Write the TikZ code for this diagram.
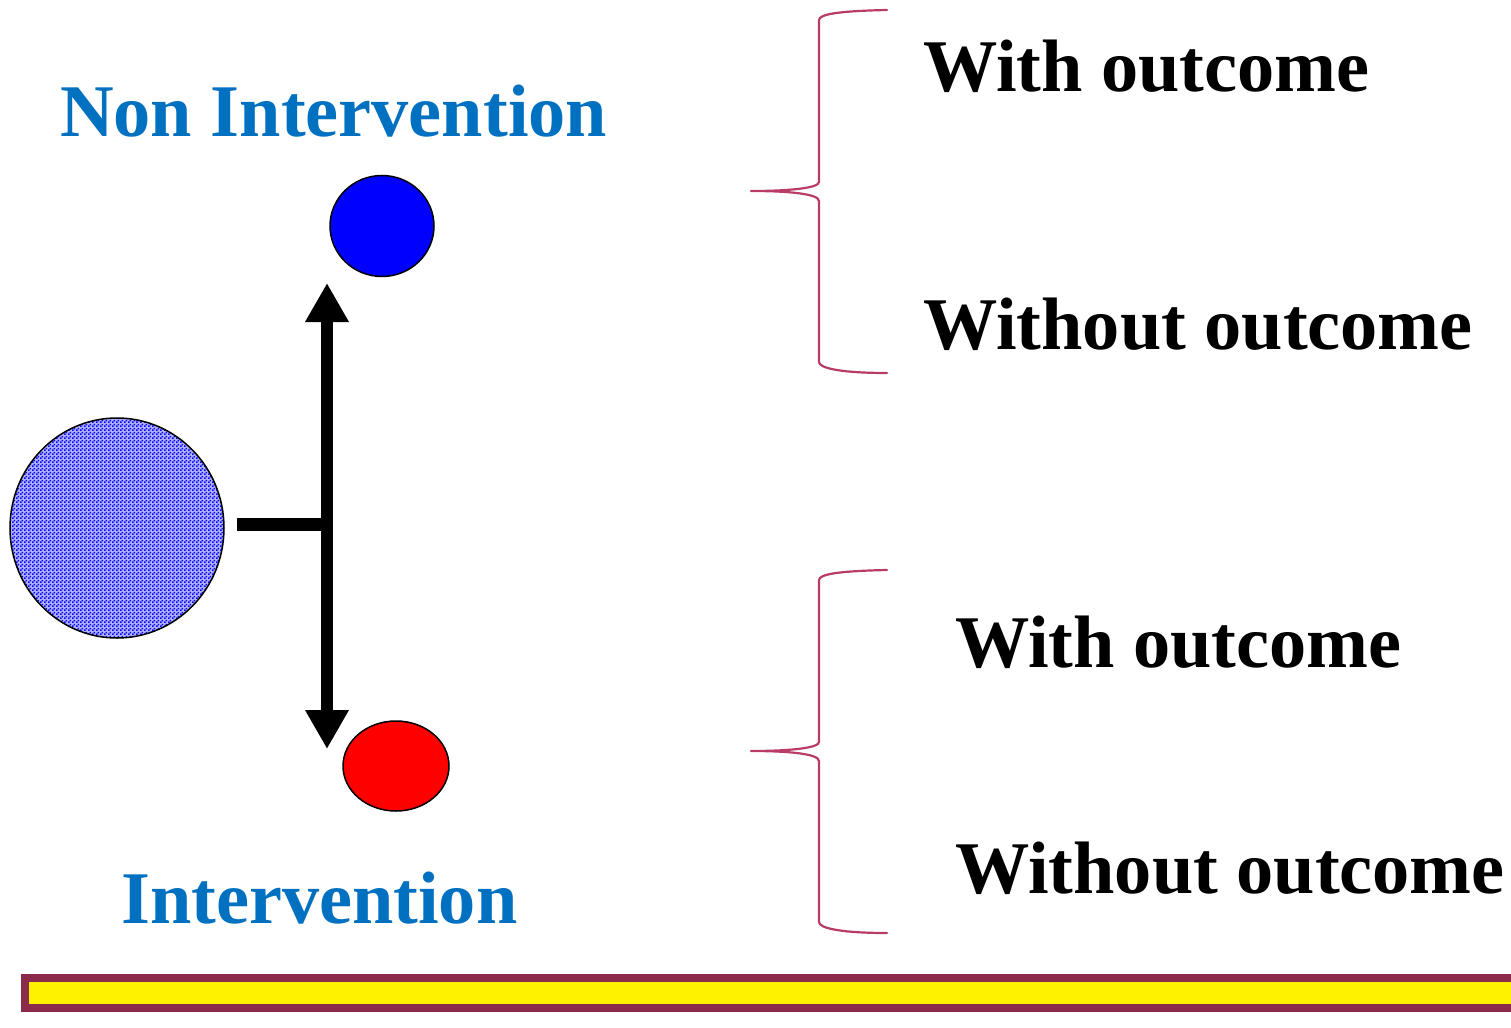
\documentclass[tikz,border=0pt]{standalone}
\usepackage{fontspec}
\setmainfont{Liberation Serif}
\usetikzlibrary{shapes.geometric,arrows.meta,patterns.meta}

\definecolor{labelblue}{RGB}{0,112,192}
\definecolor{bracecol}{RGB}{185,60,100}
\definecolor{barframe}{RGB}{139,42,74}

% fine blue checkerboard for the population circle
\tikzdeclarepattern{
  name=checker,
  type=uncolored,
  bottom left={(0pt,0pt)},
  top right={(4pt,4pt)},
  tile size={(4pt,4pt)},
  code={
    \fill (0pt,0pt) rectangle (2pt,2pt);
    \fill (2pt,2pt) rectangle (4pt,4pt);
  }
}

\tikzset{
  bigtext/.style={anchor=base west, inner sep=0pt, font=\fontsize{74.3}{90}\selectfont\bfseries},
  grouplabel/.style={bigtext, text=labelblue},
  outcomelabel/.style={bigtext, text=black},
  blob/.style={ellipse, draw=black, line width=1.5pt, inner sep=0pt},
  thickarrow/.style={line width=12.5pt, -{Triangle[length=39pt,width=41pt]}},
  brace/.style={draw=bracecol, line width=2.2pt, line cap=round, line join=round},
}

\begin{document}
\begin{tikzpicture}[x=1pt,y=-1pt]
\useasboundingbox (0,0) rectangle (1511,1027);

% circles
\node[blob, preaction={fill=blue!30}, pattern=checker, pattern color=blue, minimum width=214pt, minimum height=220pt] (pop) at (117,528) {};
\node[blob, fill=blue, minimum width=104pt, minimum height=101pt] (nonint) at (382,226) {};
\node[blob, fill=red, minimum width=106pt, minimum height=90pt] (int) at (396,766) {};

% split arrows
\coordinate (stem) at (237,524);
\coordinate (split) at (327,524);
\coordinate (uptip) at (327,283);
\coordinate (downtip) at (327,749);
\draw[line width=13pt] (stem) -- (split);
\draw[thickarrow] (split) -- (uptip);
\draw[thickarrow] (split) -- (downtip);

% group labels
\node[grouplabel] (lblnon) at (60,137) {Non Intervention};
\node[grouplabel] (lblint) at (121,923) {Intervention};

% outcome labels
\node[outcomelabel] (o1) at (923,92) {With outcome};
\node[outcomelabel] (o2) at (923,349) {Without outcome};
\node[outcomelabel] (o3) at (955,667) {With outcome};
\node[outcomelabel] (o4) at (955,893) {Without outcome};

% braces
\foreach \dy in {0,560} {
  \path[brace] (887,10+\dy) .. controls (840,11+\dy) and (819,14+\dy) .. (819,20+\dy)
    -- (819,182+\dy) .. controls (819,188+\dy) and (790,191+\dy) .. (751,191+\dy)
    .. controls (790,191+\dy) and (819,194+\dy) .. (819,201+\dy)
    -- (819,362+\dy) .. controls (819,368+\dy) and (840,373+\dy) .. (887,373+\dy);
}

% footer bar
\draw[barframe, line width=8pt, fill=yellow] (25,977.5) rectangle (1530,1007.5);
\end{tikzpicture}
\end{document}
